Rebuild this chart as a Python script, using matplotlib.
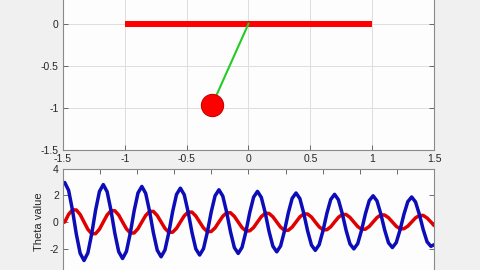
import matplotlib
matplotlib.use("Agg")
import matplotlib.pyplot as plt
import numpy as np

# pendulum frame shown in the top panel
bar_x = [-1, 1]
bar_y = [0, 0]
arm_x = [0, -0.293]
arm_y = [0, -0.96]

# time history, samples every ~0.21 s
time = np.r_[0, np.linspace(0.094, 19.835, 96), 20]
theta = [-0.05,
         0.00, 0.57, 0.91, 0.90, 0.56, 0.00, -0.55, -0.88, -0.87, -0.54,
         0.00, 0.53, 0.85, 0.84, 0.52, 0.00, -0.51, -0.82, -0.82, -0.50,
         0.00, 0.49, 0.79, 0.79, 0.48, 0.00, -0.48, -0.77, -0.76, -0.47,
         0.00, 0.46, 0.74, 0.74, 0.45, 0.00, -0.45, -0.72, -0.71, -0.44,
         0.00, 0.43, 0.69, 0.69, 0.42, 0.00, -0.42, -0.67, -0.66, -0.41,
         0.00, 0.40, 0.65, 0.64, 0.39, 0.00, -0.39, -0.62, -0.62, -0.38,
         0.00, 0.38, 0.60, 0.60, 0.37, 0.00, -0.36, -0.58, -0.58, -0.36,
         0.00, 0.35, 0.56, 0.56, 0.34, 0.00, -0.34, -0.54, -0.54, -0.33,
         0.00, 0.33, 0.53, 0.52, 0.32, 0.00, -0.32, -0.51, -0.50, -0.31,
         0.00, 0.31, 0.49, 0.49, 0.30, 0.00,
         -0.26]
omega = [2.90,
         2.95, 2.37, 0.90, -0.90, -2.34, -2.88, -2.31, -0.88, 0.88, 2.28,
         2.80, 2.26, 0.86, -0.85, -2.22, -2.73, -2.20, -0.84, 0.83, 2.17,
         2.66, 2.14, 0.81, -0.81, -2.11, -2.60, -2.09, -0.79, 0.79, 2.06,
         2.53, 2.04, 0.77, -0.77, -2.01, -2.47, -1.99, -0.75, 0.75, 1.96,
         2.41, 1.94, 0.74, -0.73, -1.91, -2.35, -1.89, -0.72, 0.71, 1.86,
         2.29, 1.84, 0.70, -0.70, -1.81, -2.23, -1.79, -0.68, 0.68, 1.77,
         2.17, 1.75, 0.66, -0.66, -1.72, -2.12, -1.70, -0.65, 0.64, 1.68,
         2.07, 1.66, 0.63, -0.63, -1.64, -2.01, -1.62, -0.62, 0.61, 1.60,
         1.96, 1.58, 0.60, -0.60, -1.56, -1.91, -1.54, -0.58, 0.58, 1.52,
         1.87, 1.50, 0.57, -0.57, -1.48, -1.82,
         -1.70]

plt.rcParams['font.family'] = ['Liberation Sans', 'DejaVu Sans']
plt.rcParams['font.size'] = 7.5

fig = plt.figure(figsize=(4.8, 2.7), dpi=100, facecolor='#f0f0f0')


def matlab_axes(ax):
    ax.set_facecolor('#fdfdfd')
    for s in ax.spines.values():
        s.set_color('#8a8a8a')
        s.set_linewidth(0.8)
    ax.tick_params(direction='in', length=3.5, width=0.6, color='#555555',
                   labelcolor='#262626', top=True, right=True, pad=3)


# top panel: pendulum (its upper part is outside the frame, as in the source)
ax1 = fig.add_axes([0.13125, 0.4444, 0.7729, 0.6237])
matlab_axes(ax1)
ax1.grid(True, color='#dedede', linewidth=0.7)
ax1.set_axisbelow(True)
ax1.plot(bar_x, bar_y, color='#ff0000', linewidth=4.3, solid_capstyle='butt')
ax1.plot(arm_x, arm_y, color='#22cc22', linewidth=1.5)
ax1.plot(arm_x[1], arm_y[1], 'o', markersize=16, markerfacecolor='#ff0000',
         markeredgecolor='#cc0000', markeredgewidth=0.8)
ax1.set_xlim(-1.5, 1.5)
ax1.set_ylim(-1.5, 0.5)
ax1.set_xticks([-1.5, -1, -0.5, 0, 0.5, 1, 1.5])
ax1.set_xticklabels(['-1.5', '-1', '-0.5', '0', '0.5', '1', '1.5'])
ax1.set_yticks([-1.5, -1, -0.5, 0, 0.5])
ax1.set_yticklabels(['-1.5', '-1', '-0.5', '0', ''])

# bottom panel: theta history (lower part falls outside the frame)
ax2 = fig.add_axes([0.13125, -0.0204, 0.7729, 0.3963])
matlab_axes(ax2)
ax2.plot(time, theta, color='#e00000', linewidth=2.5,
         solid_joinstyle='round', solid_capstyle='round')
ax2.plot(time, omega, color='#0c0cb8', linewidth=2.5,
         solid_joinstyle='round', solid_capstyle='round')
ax2.set_xlim(0, 20)
ax2.set_ylim(-4, 4)
ax2.set_xticks(np.arange(0, 21, 2))
ax2.set_xticklabels([])
ax2.set_yticks([-4, -2, 0, 2, 4])
ax2.set_yticklabels(['', '-2', '0', '2', '4'])
ax2.set_ylabel('Theta value', fontsize=8, color='#262626', labelpad=4)

fig.savefig('out.png', dpi=100, facecolor=fig.get_facecolor())
